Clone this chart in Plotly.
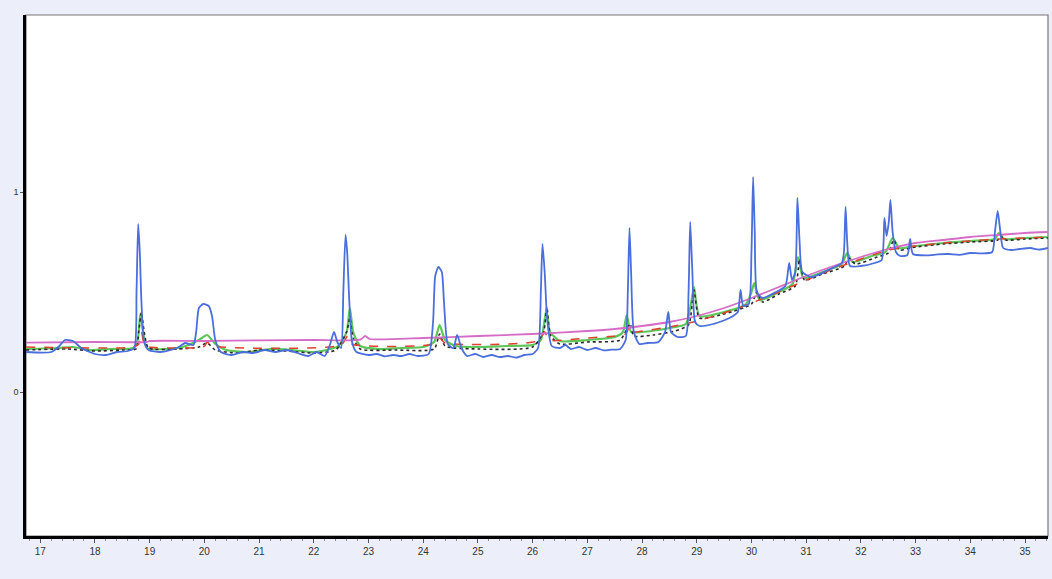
import plotly.graph_objects as go

# retention time (min) / response
blue_x = [16.74, 17.2, 17.35, 17.45, 17.6, 17.75, 18.0, 18.2, 18.4, 18.6, 18.72, 18.76, 18.79, 18.82, 18.85, 18.9, 18.98,
          19.2, 19.5, 19.65, 19.8, 19.85, 19.9, 19.98, 20.08, 20.14, 20.2, 20.3, 20.5, 20.7, 20.9, 21.1, 21.3, 21.5,
          21.7, 21.9, 22.05, 22.2, 22.3, 22.37, 22.43, 22.5, 22.54, 22.58, 22.61, 22.65, 22.7, 22.78, 23.0, 23.15,
          23.3, 23.45, 23.6, 23.75, 23.9, 24.1, 24.18, 24.22, 24.28, 24.34, 24.38, 24.45, 24.55, 24.62, 24.7, 24.8,
          24.95, 25.1, 25.25, 25.4, 25.55, 25.7, 25.85, 26.0, 26.1, 26.15, 26.18, 26.22, 26.27, 26.35, 26.5, 26.6,
          26.7, 26.85, 27.0, 27.15, 27.3, 27.45, 27.6, 27.7, 27.74, 27.77, 27.8, 27.85, 27.95, 28.1, 28.3, 28.42,
          28.48, 28.53, 28.65, 28.8, 28.85, 28.88, 28.92, 28.97, 29.05, 29.3, 29.6, 29.75, 29.8, 29.85, 29.95,
          30.0, 30.03, 30.06, 30.1, 30.2, 30.45, 30.62, 30.69, 30.74, 30.8, 30.84, 30.88, 30.93, 31.1, 31.4,
          31.65, 31.69, 31.72, 31.75, 31.8, 32.0, 32.25, 32.38, 32.43, 32.47, 32.51, 32.54, 32.58, 32.64, 32.72,
          32.85, 32.9, 32.95, 33.2, 33.4, 33.6, 33.8, 34.0, 34.2, 34.4, 34.45, 34.5, 34.55, 34.6, 34.75, 34.9,
          35.1, 35.25, 35.42]
blue_y = [0.2, 0.2, 0.23, 0.26, 0.255, 0.22, 0.19, 0.185, 0.2, 0.205, 0.22, 0.5, 0.84, 0.7, 0.45, 0.25, 0.21,
          0.2, 0.22, 0.245, 0.235, 0.3, 0.42, 0.44, 0.43, 0.38, 0.26, 0.2, 0.185, 0.2, 0.195, 0.21, 0.2, 0.21,
          0.195, 0.18, 0.2, 0.18, 0.24, 0.3, 0.25, 0.22, 0.5, 0.785, 0.7, 0.45, 0.25, 0.2, 0.185, 0.19,
          0.178, 0.185, 0.18, 0.19, 0.18, 0.19, 0.35, 0.58, 0.625, 0.6, 0.45, 0.24, 0.22, 0.285, 0.22, 0.18,
          0.19, 0.175, 0.185, 0.175, 0.18, 0.172, 0.185, 0.19, 0.22, 0.5, 0.74, 0.6, 0.35, 0.23, 0.22, 0.235,
          0.215, 0.225, 0.21, 0.22, 0.208, 0.212, 0.215, 0.26, 0.5, 0.82, 0.6, 0.3, 0.24, 0.245, 0.25, 0.3,
          0.4, 0.3, 0.275, 0.28, 0.5, 0.85, 0.6, 0.35, 0.33, 0.34, 0.37, 0.4, 0.51, 0.43, 0.44,
          0.7, 1.075, 0.8, 0.5, 0.47, 0.5, 0.53, 0.645, 0.56, 0.6, 0.97, 0.75, 0.6, 0.575, 0.61,
          0.645, 0.7, 0.925, 0.75, 0.63, 0.63, 0.645, 0.66, 0.87, 0.78, 0.85, 0.96, 0.8, 0.7, 0.68,
          0.685, 0.765, 0.69, 0.683, 0.688, 0.69, 0.686, 0.695, 0.693, 0.7, 0.8, 0.905, 0.8, 0.72, 0.71, 0.715,
          0.72, 0.712, 0.72]

green_x = [16.74, 17.3, 17.6, 17.9, 18.3, 18.7, 18.78, 18.83, 18.88, 18.95, 19.3, 19.6, 19.9, 20.05, 20.2, 20.4,
           20.8, 21.2, 21.6, 22.0, 22.3, 22.45, 22.6, 22.66, 22.72, 22.85, 23.2, 23.6, 24.0, 24.2, 24.3, 24.4,
           24.6, 25.0, 25.5, 26.0, 26.15, 26.25, 26.32, 26.5, 27.0, 27.5, 27.65, 27.72, 27.8, 28.0, 28.5, 28.8,
           28.9, 28.95, 29.05, 29.5, 29.9, 30.0, 30.05, 30.15, 30.5, 30.75, 30.85, 30.95, 31.3, 31.65, 31.75,
           31.85, 32.2, 32.45, 32.58, 32.7, 33.0, 33.5, 34.0, 34.45, 34.52, 34.62, 35.0, 35.42]
green_y = [0.215, 0.22, 0.225, 0.21, 0.215, 0.22, 0.26, 0.39, 0.3, 0.22, 0.215, 0.225, 0.26, 0.285, 0.24, 0.21,
           0.2, 0.215, 0.21, 0.2, 0.215, 0.23, 0.3, 0.42, 0.3, 0.23, 0.215, 0.22, 0.225, 0.25, 0.335, 0.26,
           0.23, 0.225, 0.23, 0.235, 0.26, 0.41, 0.3, 0.255, 0.26, 0.275, 0.3, 0.385, 0.3, 0.3, 0.32, 0.34,
           0.45, 0.525, 0.38, 0.4, 0.44, 0.5, 0.545, 0.46, 0.5, 0.54, 0.675, 0.57, 0.6, 0.64, 0.695,
           0.65, 0.68, 0.7, 0.77, 0.72, 0.73, 0.745, 0.755, 0.765, 0.795, 0.765, 0.77, 0.775]

black_x = [16.74, 17.5, 18.0, 18.5, 18.75, 18.8, 18.85, 18.9, 18.98, 19.5, 19.9, 20.05, 20.2, 20.6, 21.0, 21.5,
           22.0, 22.4, 22.6, 22.66, 22.72, 22.85, 23.5, 24.2, 24.3, 24.4, 25.0, 26.0, 26.2, 26.26, 26.33, 26.5,
           27.0, 27.6, 27.78, 27.85, 28.2, 28.6, 28.85, 28.95, 29.05, 29.5, 30.0, 30.1, 30.2, 30.5, 30.8, 30.88,
           30.97, 31.3, 31.7, 31.78, 31.9, 32.3, 32.5, 32.6, 32.7, 33.0, 33.5, 34.0, 34.5, 34.55, 34.65, 35.0,
           35.42]
black_y = [0.21, 0.215, 0.205, 0.21, 0.215, 0.3, 0.4, 0.3, 0.22, 0.215, 0.225, 0.245, 0.21, 0.195, 0.21, 0.205,
           0.195, 0.21, 0.3, 0.37, 0.27, 0.215, 0.21, 0.215, 0.29, 0.23, 0.215, 0.225, 0.3, 0.425, 0.28, 0.24,
           0.25, 0.26, 0.34, 0.28, 0.285, 0.305, 0.335, 0.51, 0.37, 0.39, 0.44, 0.5, 0.45, 0.49, 0.53, 0.665,
           0.56, 0.59, 0.63, 0.67, 0.64, 0.675, 0.695, 0.76, 0.71, 0.725, 0.74, 0.75, 0.76, 0.78, 0.76, 0.765,
           0.77]

red_x = [16.74, 18.7, 18.8, 18.85, 18.9, 19.0, 20.0, 20.05, 20.15, 22.5, 22.62, 22.7, 24.2, 24.3, 24.4, 26.1,
         26.22, 26.3, 27.0, 27.5, 27.7, 27.78, 27.85, 28.0, 28.5, 29.0, 29.5, 30.0, 30.5, 31.0, 31.5, 32.0,
         32.5, 33.0, 33.5, 34.0, 34.5, 35.0, 35.42]
red_y = [0.225, 0.225, 0.24, 0.3, 0.24, 0.225, 0.228, 0.25, 0.23, 0.235, 0.28, 0.24, 0.24, 0.27, 0.245, 0.255,
         0.3, 0.26, 0.27, 0.28, 0.29, 0.33, 0.3, 0.305, 0.325, 0.355, 0.395, 0.445, 0.5, 0.56, 0.615, 0.665,
         0.71, 0.73, 0.745, 0.755, 0.765, 0.77, 0.775]

pink_x = [16.74, 18.0, 18.95, 19.0, 20.0, 21.0, 22.0, 22.85, 22.94, 23.02, 24.0, 25.0, 26.0, 27.0, 27.5, 28.0,
          28.5, 29.0, 29.5, 30.0, 30.5, 31.0, 31.5, 32.0, 32.5, 33.0, 33.5, 34.0, 34.5, 35.0, 35.42]
pink_y = [0.247, 0.25, 0.25, 0.255, 0.255, 0.258, 0.26, 0.262, 0.28, 0.265, 0.27, 0.28, 0.29, 0.305, 0.315, 0.33,
          0.35, 0.38, 0.42, 0.47, 0.525, 0.58, 0.63, 0.675, 0.715, 0.745, 0.76, 0.775, 0.785, 0.795, 0.80]

x_ticks = list(range(17, 36))
y_ticks = [0, 1]


def trace(xs, ys, color, width, dash='solid'):
    return go.Scatter(x=xs, y=ys, mode='lines',
                      line=dict(color=color, width=width, dash=dash, shape='spline', smoothing=0.6))


fig = go.Figure()
fig.add_trace(trace(green_x, green_y, '#5cc65a', 2.2))
fig.add_trace(trace(black_x, black_y, '#2a2a2a', 1.6, 'dot'))
fig.add_trace(trace(red_x, red_y, '#e0402c', 1.5, 'dash'))
fig.add_trace(trace(pink_x, pink_y, '#d66cc6', 1.8))
fig.add_trace(trace(blue_x, blue_y, '#4a6fdc', 1.8))

fig.update_layout(
    width=1052, height=579,
    margin=dict(l=26, r=4, t=15, b=43),
    paper_bgcolor='#eceff9',
    plot_bgcolor='white',
    showlegend=False,
    font=dict(family='Liberation Sans, Arial', size=10, color='#333333'),
)
fig.update_xaxes(
    range=[16.74, 35.42], tickvals=x_ticks, ticks='outside', ticklen=4, tickcolor='#555',
    showgrid=False, zeroline=False, showline=True, linecolor='black', linewidth=2.5,
    minor=dict(dtick=0.2, ticks='outside', ticklen=2, tickcolor='#888'),
    tickfont=dict(size=10, color='#333'), automargin=False,
)
fig.update_yaxes(
    range=[-0.72, 1.885], tickvals=y_ticks, ticks='outside', ticklen=3, tickcolor='#555',
    showgrid=False, zeroline=False, showline=True, linecolor='black', linewidth=2.5,
    tickfont=dict(size=9, color='#333'), automargin=False,
)
# thin frame on top and right
fig.add_shape(type='rect', xref='paper', yref='paper', x0=0, y0=0, x1=1, y1=1,
              line=dict(color='#777', width=1.2), layer='below')

fig.write_html("out.html", config={'displayModeBar': False},
               post_script="document.body.style.margin='0';document.body.style.background='#eceff9';")
